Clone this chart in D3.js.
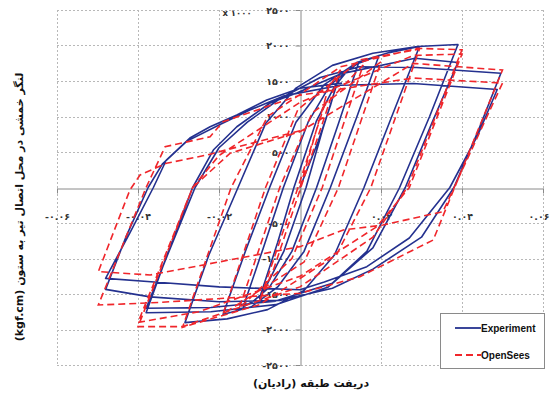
<!DOCTYPE html>
<html lang="fa">
<head>
<meta charset="utf-8">
<script src="https://cdn.jsdelivr.net/npm/d3@7"></script>
<style>
  html, body { margin: 0; padding: 0; background: #fff; }
  #chart { width: 550px; height: 394px; }
</style>
</head>
<body>
<div id="chart"></div>
<script>
/**
 * Hysteresis chart: beam-column connection moment vs storey drift
 */

// Axis ticks
const xTicks = [-0.06, -0.04, -0.02, 0, 0.02, 0.04, 0.06];
const xTickLabels = ['-۰.۰۶', '-۰.۰۴', '-۰.۰۲', '', '۰.۰۲', '۰.۰۴', '۰.۰۶'];
const yTicks = [-2500, -2000, -1500, -1000, -500, 0, 500, 1000, 1500, 2000, 2500];
const yTickLabels = ['-۲۵۰۰', '-۲۰۰۰', '-۱۵۰۰', '-۱۰۰۰', '-۵۰۰', '', '۵۰۰', '۱۰۰۰', '۱۵۰۰', '۲۰۰۰', '۲۵۰۰'];

const seriesNames = ['Experiment', 'OpenSees'];

// [drift (rad), moment (x1000 kgf.cm)]
const experimentPoints = [
    [0, 0], [0.0045, 650], [0.0075, 1150], [0.0090, 1450], [0.0100, 1620],
    [0.0055, 800], [0.0015, 0], [-0.0040, -900], [-0.0080, -1350], [-0.0100, -1560],
    [-0.0055, -770], [-0.0015, 0], [0.0040, 930], [0.0085, 1420], [0.0115, 1630], [0.0145, 1760],
    [0.0095, 900], [0.0041, 0], [-0.0020, -900], [-0.0075, -1400], [-0.0115, -1600], [-0.0140, -1680],
    [-0.0090, -840], [-0.0041, 0], [0.0020, 920], [0.0075, 1450], [0.0140, 1740], [0.0195, 1860],
    [0.0140, 990], [0.0075, 0], [0.0010, -900], [-0.0055, -1400], [-0.0120, -1680], [-0.0190, -1790],
    [-0.0135, -900], [-0.0075, 0], [-0.0010, 920], [0.0060, 1450], [0.0140, 1760], [0.0220, 1900], [0.0295, 1985],
    [0.0230, 1050], [0.0158, 0], [0.0085, -950], [0.0010, -1450], [-0.0080, -1720], [-0.0180, -1850], [-0.0284, -1903],
    [-0.0225, -950], [-0.0153, 0], [-0.0085, 900], [-0.0010, 1400], [0.0080, 1720], [0.0180, 1890], [0.0290, 1985], [0.0390, 2015],
    [0.0320, 1000], [0.0246, 0], [0.0165, -900], [0.0070, -1400], [-0.0060, -1650], [-0.0220, -1750], [-0.0380, -1765],
    [-0.0325, -900], [-0.0265, 0], [-0.0214, 528], [-0.0156, 856], [-0.0074, 1190], [-0.0008, 1330], [0.0100, 1600], [0.0284, 1820], [0.0390, 1760],
    [0.0325, 900], [0.0260, 0], [0.0180, -850], [0.0080, -1350], [-0.0060, -1600], [-0.0220, -1690], [-0.0380, -1700],
    [-0.0320, -850], [-0.0259, 0], [-0.0200, 560], [-0.0130, 920], [-0.0050, 1250], [0.0050, 1550], [0.0147, 1700], [0.0288, 1690], [0.0496, 1610],
    [0.0440, 800], [0.0380, 0], [0.0300, -700], [0.0180, -1150], [0.0080, -1420], [-0.0050, -1590], [-0.0200, -1610], [-0.0370, -1540], [-0.0480, -1435],
    [-0.0430, -700], [-0.0375, 0], [-0.0340, 330], [-0.0280, 650], [-0.0200, 880], [-0.0120, 1100], [-0.0040, 1290], [0.0100, 1440], [0.0280, 1465], [0.0487, 1380],
    [0.0440, 750], [0.0370, 0], [0.0270, -711], [0.0165, -1115], [0.0060, -1330], [0.0000, -1440], [-0.0200, -1400], [-0.0360, -1330], [-0.0480, -1280],
    [-0.0420, -640], [-0.0362, 0], [-0.0330, 387], [-0.0272, 697], [-0.0222, 856], [-0.0156, 1021], [-0.0082, 1232], [0.0000, 1397], [0.0104, 1470]
];

const openSeesPoints = [
    [0, 0], [0.0070, 1400], [0.0100, 1660],
    [0.0002, 0], [-0.0065, -1150], [-0.0100, -1600],
    [-0.0005, 0], [0.0060, 1150], [0.0156, 1725],
    [0.0055, 0], [-0.0020, -1000], [-0.0150, -1700],
    [-0.0050, 0], [0.0030, 1050], [0.0200, 1771],
    [0.0095, 0], [0.0010, -1050], [-0.0190, -1780],
    [-0.0085, 0], [-0.0005, 1100], [0.0150, 1800], [0.0295, 1950],
    [0.0175, 0], [0.0090, -950], [-0.0100, -1650], [-0.0290, -1968],
    [-0.0170, 0], [-0.0080, 1000], [0.0100, 1700], [0.0290, 1960], [0.0400, 1940],
    [0.0265, 0], [0.0180, -700], [0.0000, -1400], [-0.0290, -1960], [-0.0400, -1960],
    [-0.0265, 0], [-0.0200, 450], [0.0000, 1200], [0.0280, 1860], [0.0400, 1880],
    [0.0270, 0], [0.0190, -550], [0.0000, -1250], [-0.0250, -1750], [-0.0400, -1900],
    [-0.0265, 0], [-0.0173, 481], [0.0000, 786], [0.0280, 1748], [0.0500, 1654],
    [0.0329, -739], [0.0148, -1256], [0.0000, -1490], [-0.0350, -1620], [-0.0498, -1655],
    [-0.0380, 0], [-0.0333, 574], [-0.0222, 715], [-0.0190, 926], [0.0000, 1300], [0.0279, 1542], [0.0500, 1471],
    [0.0353, -340], [0.0205, -528], [0.0107, -598], [0.0000, -833], [-0.0370, -1232], [-0.0498, -1185],
    [-0.0420, -35], [-0.0395, 176], [-0.0330, 341], [-0.0230, 458], [0.0000, 800]
];

/**
 * Chart configuration
 */
const CHART_CONFIG = {
    width: 550,
    height: 394,
    plot: { left: 57, right: 543, top: 10, bottom: 365 },
    xDomain: [-0.06, 0.06],
    yDomain: [-2500, 2500],
    colors: { experiment: '#24318f', openSees: '#f0262b', grid: '#b8b8b8', axis: '#8a8a8a', text: '#333' },
    persianFont: '"DejaVu Sans", sans-serif',
    latinFont: '"Liberation Sans", Arial, sans-serif'
};

class HysteresisChart {
    /**
     * @param {string} container - selector of the container
     * @param {Object} options - config overrides
     */
    constructor(container, options = {}) {
        this.container = document.querySelector(container);
        this.options = { ...CHART_CONFIG, ...options };
        this.render();
    }

    render() {
        const o = this.options;
        this.svg = d3.select(this.container)
            .append('svg')
            .attr('width', o.width)
            .attr('height', o.height)
            .attr('viewBox', `0 0 ${o.width} ${o.height}`);

        this.x = d3.scaleLinear().domain(o.xDomain).range([o.plot.left, o.plot.right]);
        this.y = d3.scaleLinear().domain(o.yDomain).range([o.plot.bottom, o.plot.top]);

        this.drawGrid();
        this.drawAxes();
        this.drawSeries();
        this.drawLegend();
        this.drawTitles();
    }

    drawGrid() {
        const o = this.options;
        const grid = this.svg.append('g').attr('class', 'grid')
            .style('stroke', o.colors.grid)
            .style('stroke-width', 1)
            .style('stroke-dasharray', '2,2');

        grid.selectAll('line.v')
            .data(xTicks.filter(d => d !== 0))
            .enter().append('line')
            .attr('class', 'v')
            .attr('x1', d => Math.round(this.x(d)) + 0.5)
            .attr('x2', d => Math.round(this.x(d)) + 0.5)
            .attr('y1', o.plot.top)
            .attr('y2', o.plot.bottom);

        grid.selectAll('line.h')
            .data(yTicks.filter(d => d !== 0))
            .enter().append('line')
            .attr('class', 'h')
            .attr('x1', o.plot.left)
            .attr('x2', o.plot.right)
            .attr('y1', d => Math.round(this.y(d)) + 0.5)
            .attr('y2', d => Math.round(this.y(d)) + 0.5);
    }

    drawAxes() {
        const o = this.options;

        const xAxis = d3.axisBottom(this.x)
            .tickValues(xTicks)
            .tickFormat((d, i) => xTickLabels[i])
            .tickSizeInner(5)
            .tickSizeOuter(0)
            .tickPadding(20);

        const yAxis = d3.axisLeft(this.y)
            .tickValues(yTicks)
            .tickFormat((d, i) => yTickLabels[i])
            .tickSizeInner(5)
            .tickSizeOuter(0)
            .tickPadding(6);

        const gx = this.svg.append('g')
            .attr('transform', `translate(0,${Math.round(this.y(0)) + 0.5})`)
            .call(xAxis);

        const gy = this.svg.append('g')
            .attr('transform', `translate(${Math.round(this.x(0)) + 0.5},0)`)
            .call(yAxis);

        [gx, gy].forEach(g => {
            g.select('.domain').attr('stroke', o.colors.axis);
            g.selectAll('.tick line').attr('stroke', o.colors.axis);
            g.selectAll('.tick text')
                .attr('fill', o.colors.text)
                .style('font-family', o.persianFont)
                .style('font-size', '9.5px')
                .style('font-weight', 'bold');
        });

        // keep the last x label inside the picture
        gx.selectAll('.tick text')
            .filter(d => d === xTicks[xTicks.length - 1])
            .attr('text-anchor', 'end')
            .attr('x', 6);

        // units label next to the top tick
        this.svg.append('text')
            .attr('x', 237)
            .attr('y', 16)
            .attr('text-anchor', 'middle')
            .attr('fill', o.colors.text)
            .style('font-family', o.persianFont)
            .style('font-size', '8.5px')
            .style('font-weight', 'bold')
            .text('x ۱۰۰۰');
    }

    drawSeries() {
        const o = this.options;
        const line = d3.line()
            .x(d => this.x(d[0]))
            .y(d => this.y(d[1]));

        this.svg.append('path')
            .datum(experimentPoints)
            .attr('d', line)
            .attr('fill', 'none')
            .attr('stroke', o.colors.experiment)
            .attr('stroke-width', 1.6)
            .attr('stroke-linejoin', 'round');

        this.svg.append('path')
            .datum(openSeesPoints)
            .attr('d', line)
            .attr('fill', 'none')
            .attr('stroke', o.colors.openSees)
            .attr('stroke-width', 1.6)
            .attr('stroke-dasharray', '7,4');
    }

    drawLegend() {
        const o = this.options;
        const g = this.svg.append('g').attr('transform', 'translate(440,313)');

        g.append('rect')
            .attr('x', 0.5).attr('y', 0.5)
            .attr('width', 104).attr('height', 55)
            .attr('fill', '#fff')
            .attr('stroke', o.colors.axis);

        const items = [
            { name: seriesNames[0], color: o.colors.experiment, dash: null, y: 15 },
            { name: seriesNames[1], color: o.colors.openSees, dash: '7,4', y: 42 }
        ];

        items.forEach(item => {
            g.append('line')
                .attr('x1', 15).attr('x2', 41)
                .attr('y1', item.y).attr('y2', item.y)
                .attr('stroke', item.color)
                .attr('stroke-width', 1.8)
                .attr('stroke-dasharray', item.dash);
            g.append('text')
                .attr('x', 41).attr('y', item.y + 3.5)
                .attr('fill', '#111')
                .style('font-family', o.latinFont)
                .style('font-size', '10px')
                .style('font-weight', 'bold')
                .text(item.name);
        });
    }

    drawTitles() {
        const o = this.options;

        this.svg.append('text')
            .attr('x', 311)
            .attr('y', 387)
            .attr('text-anchor', 'middle')
            .attr('direction', 'rtl')
            .attr('fill', '#111')
            .style('font-family', o.persianFont)
            .style('font-size', '11px')
            .style('font-weight', 'bold')
            .text('دریفت طبقه (رادیان)');

        this.svg.append('text')
            .attr('transform', 'translate(23,207) rotate(-90)')
            .attr('text-anchor', 'middle')
            .attr('direction', 'rtl')
            .attr('fill', '#111')
            .style('font-family', o.persianFont)
            .style('font-size', '11px')
            .style('font-weight', 'bold')
            .text('لنگر خمشی در محل اتصال تیر به ستون (kgf.cm)');
    }
}

document.addEventListener('DOMContentLoaded', function() {
    new HysteresisChart('#chart');
});
</script>
</body>
</html>
